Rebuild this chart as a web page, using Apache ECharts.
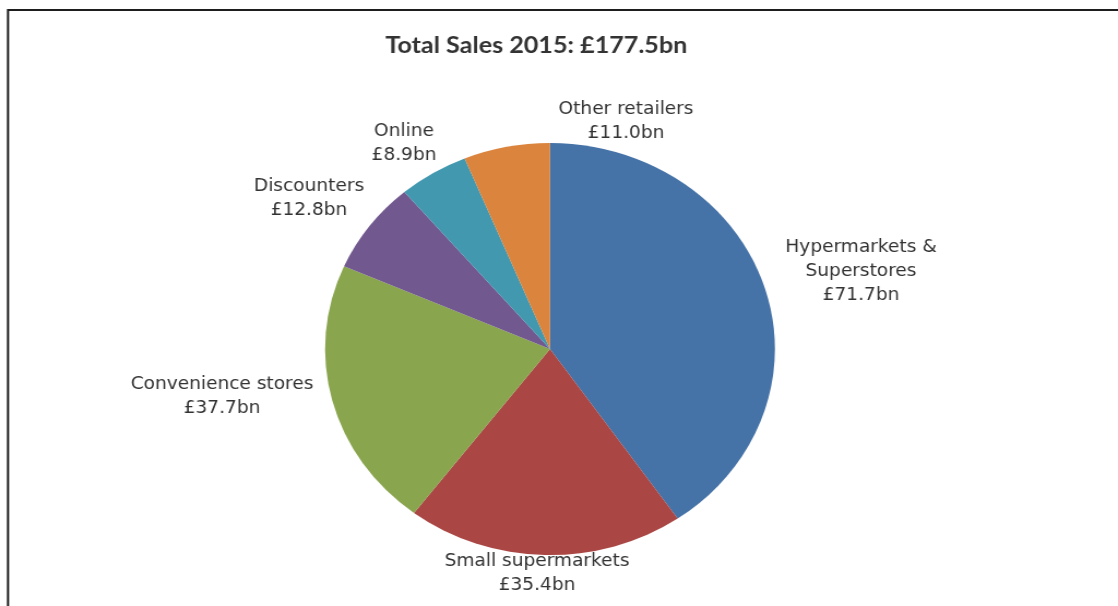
<!DOCTYPE html>
<html>
<head>
<meta charset="utf-8">
<script src="https://cdn.jsdelivr.net/npm/echarts@6/dist/echarts.min.js"></script>
<style>
html,body{margin:0;padding:0;background:#fff;overflow:hidden;}
#wrap{width:1118px;height:606px;overflow:hidden;position:relative;}
#chart{width:1024px;height:606px;transform:scaleX(1.0918);transform-origin:0 0;}
</style>
</head>
<body>
<div id="wrap"><div id="chart"></div></div>
<script>
const titleText = 'Total Sales 2015: £177.5bn';
const categories = ['Hypermarkets &\nSuperstores', 'Small supermarkets', 'Convenience stores', 'Discounters', 'Online', 'Other retailers'];
const salesBn = [71.7, 35.4, 37.7, 12.8, 8.9, 11.0];
const colors = ['#4572A7', '#AA4643', '#89A54E', '#71588F', '#4198AF', '#DB843D'];

// the reference is stretched horizontally; we draw at 1024px and stretch by this factor
const stretch = 1118 / 1024;
// label centre offsets relative to the pie centre, in final pixels (layout only)
const labelOffsets = [[311, -77], [-13, 225], [-328, 48], [-241, -150], [-146, -205], [76, -227]];
const pieCenter = [550 / stretch, 349];

const chart = echarts.init(document.getElementById('chart'));
chart.setOption({
  backgroundColor: '#ffffff',
  animation: false,
  title: {
    text: titleText,
    left: 380 / stretch,
    top: 29,
    textStyle: { fontFamily: 'Lato', fontWeight: 'bold', fontSize: 23, color: '#333333' }
  },
  graphic: [{
    type: 'rect',
    shape: { x: 8 / stretch, y: 10, width: 1100, height: 640 },
    style: { fill: 'none', stroke: '#1e1e1e', lineWidth: 2 },
    silent: true
  }],
  series: [{
    type: 'pie',
    center: pieCenter,
    radius: 206,
    startAngle: 90,
    clockwise: true,
    avoidLabelOverlap: false,
    itemStyle: { borderWidth: 0 },
    label: {
      show: true,
      position: 'outside',
      fontFamily: 'DejaVu Sans',
      fontSize: 17,
      lineHeight: 24,
      color: '#333333',
      formatter: function (p) { return p.name + '\n£' + p.value.toFixed(1) + 'bn'; }
    },
    labelLine: { show: false },
    labelLayout: function (params) {
      const o = labelOffsets[params.dataIndex];
      return { x: pieCenter[0] + o[0] / stretch, y: pieCenter[1] + o[1], align: 'center', verticalAlign: 'middle' };
    },
    emphasis: { disabled: true },
    data: categories.map(function (c, i) {
      return { name: c, value: salesBn[i], itemStyle: { color: colors[i] } };
    })
  }]
});
</script>
</body>
</html>
